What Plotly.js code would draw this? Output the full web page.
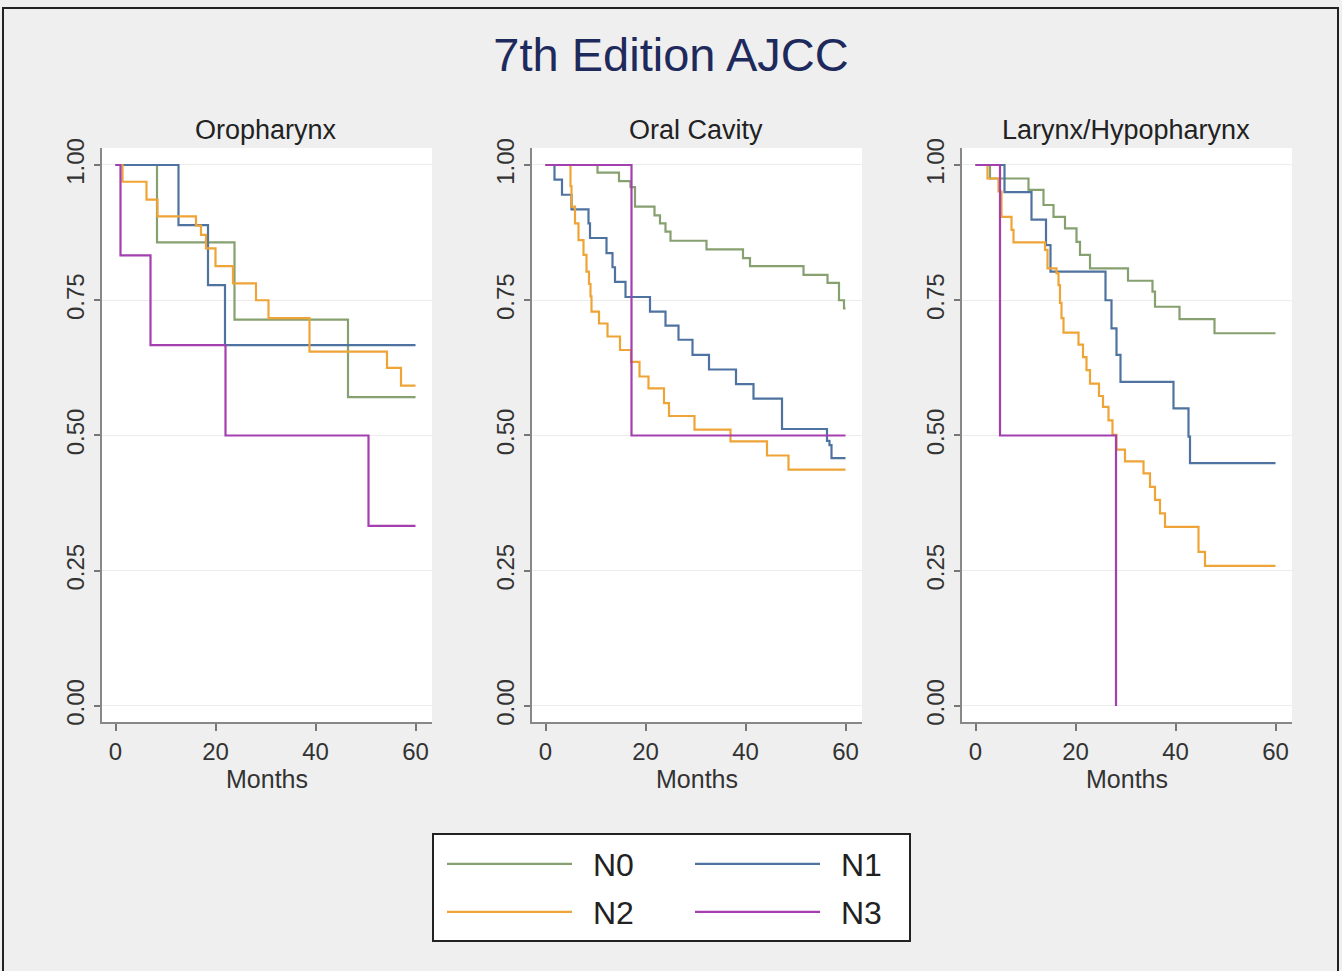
<!DOCTYPE html>
<html><head><meta charset="utf-8">
<script src="https://cdn.plot.ly/plotly-3.0.1.min.js"></script>
<style>html,body{margin:0;padding:0;background:#efefef;} #chart{width:1342px;height:971px;}</style>
</head><body><div id="chart"></div>
<script>
// ---- Data (months, survival proportion) ----
const panelTitles = ['Oropharynx', 'Oral Cavity', 'Larynx/Hypopharynx'];
const seriesNames = ['N0', 'N1', 'N2', 'N3'];
const seriesColors = ['#86a070', '#4f73a0', '#eea436', '#a43fb0'];
const xTickVals = [0, 20, 40, 60];
const yTickVals = [0, 0.25, 0.5, 0.75, 1];
const yTickText = ['0.00', '0.25', '0.50', '0.75', '1.00'];

// Oropharynx
const oroN0_t = [0, 8.3, 23.8, 46.5, 60];
const oroN0_s = [1, 0.857, 0.714, 0.571, 0.571];
const oroN1_t = [0, 12.6, 18.5, 21.9, 60];
const oroN1_s = [1, 0.889, 0.778, 0.667, 0.667];
const oroN2_t = [0, 1.4, 6.2, 8.4, 16.1, 17.1, 18.1, 20.0, 23.5, 28.1, 30.6, 38.8, 54.3, 57.1, 60];
const oroN2_s = [1, 0.969, 0.936, 0.905, 0.888, 0.871, 0.846, 0.813, 0.781, 0.750, 0.717, 0.655, 0.625, 0.592, 0.592];
const oroN3_t = [0, 1.0, 7.0, 22.0, 50.6, 60];
const oroN3_s = [1, 0.833, 0.667, 0.5, 0.333, 0.333];

// Oral Cavity
const ocN0_t = [0, 10.4, 14.7, 17.0, 17.9, 21.8, 22.9, 24.0, 25.0, 32.2, 39.5, 40.9, 51.6, 56.4, 58.7, 59.7, 60];
const ocN0_s = [1, 0.986, 0.970, 0.959, 0.923, 0.907, 0.892, 0.877, 0.860, 0.844, 0.828, 0.813, 0.797, 0.782, 0.750, 0.735, 0.735];
const ocN1_t = [0, 1.8, 3.3, 5.2, 8.6, 8.9, 12.2, 13.4, 13.9, 16.0, 20.9, 24.0, 26.6, 29.4, 32.7, 38.1, 41.6, 47.3, 56.3, 56.8, 57.2, 60];
const ocN1_s = [1, 0.973, 0.945, 0.918, 0.892, 0.865, 0.837, 0.811, 0.784, 0.756, 0.729, 0.703, 0.677, 0.649, 0.622, 0.595, 0.568, 0.512, 0.490, 0.482, 0.458, 0.458];
const ocN2_t = [0, 5.0, 5.2, 5.9, 6.6, 7.6, 8.2, 8.7, 9.0, 9.2, 10.7, 12.4, 14.9, 17.1, 18.8, 20.6, 23.7, 24.7, 29.8, 37.0, 44.3, 48.6, 60];
const ocN2_s = [1, 0.961, 0.923, 0.892, 0.861, 0.834, 0.803, 0.780, 0.757, 0.729, 0.707, 0.683, 0.658, 0.636, 0.609, 0.587, 0.560, 0.536, 0.511, 0.489, 0.463, 0.437, 0.437];
const ocN3_t = [0, 17.2, 60];
const ocN3_s = [1, 0.5, 0.5];

// Larynx/Hypopharynx
const lhN0_t = [0, 2.9, 10.6, 13.6, 15.6, 17.9, 20.2, 20.9, 22.9, 30.5, 35.4, 35.9, 40.8, 47.8, 60];
const lhN0_s = [1, 0.975, 0.954, 0.926, 0.904, 0.883, 0.858, 0.834, 0.809, 0.786, 0.766, 0.738, 0.715, 0.689, 0.689];
const lhN1_t = [0, 5.8, 11.2, 14.1, 15.0, 26.0, 27.2, 28.2, 29.0, 39.6, 42.6, 42.9, 60];
const lhN1_s = [1, 0.950, 0.899, 0.852, 0.803, 0.750, 0.698, 0.649, 0.599, 0.550, 0.498, 0.449, 0.449];
const lhN2_t = [0, 2.4, 4.6, 5.2, 7.2, 7.6, 13.9, 14.4, 16.2, 16.6, 16.9, 17.2, 17.6, 20.6, 21.5, 22.2, 22.9, 24.7, 25.5, 26.6, 27.4, 28.2, 29.9, 33.6, 34.9, 35.9, 36.9, 37.9, 44.6, 45.9, 60];
const lhN2_s = [1, 0.975, 0.951, 0.904, 0.880, 0.857, 0.843, 0.809, 0.800, 0.778, 0.745, 0.717, 0.690, 0.668, 0.645, 0.621, 0.596, 0.573, 0.553, 0.528, 0.501, 0.474, 0.452, 0.430, 0.405, 0.381, 0.356, 0.331, 0.285, 0.259, 0.259];
const lhN3_t = [0, 4.9, 28.1];
const lhN3_s = [1, 0.5, 0.0];

const panels = [
  [[oroN0_t, oroN0_s], [oroN1_t, oroN1_s], [oroN2_t, oroN2_s], [oroN3_t, oroN3_s]],
  [[ocN0_t, ocN0_s], [ocN1_t, ocN1_s], [ocN2_t, ocN2_s], [ocN3_t, ocN3_s]],
  [[lhN0_t, lhN0_s], [lhN1_t, lhN1_s], [lhN2_t, lhN2_s], [lhN3_t, lhN3_s]]
];

// ---- Layout geometry (px in a 1342x971 figure) ----
const W = 1342, H = 971;
const FONT = 'Liberation Sans, Arial, Helvetica, sans-serif';
const xDomPx = [[102, 432], [532, 862], [962, 1292]];
const yDomPx = [148, 722];
const px2x = p => p / W;
const px2y = p => 1 - p / H;

const traces = [];
panels.forEach((series, pi) => {
  series.forEach((ts, si) => {
    traces.push({
      type: 'scatter', mode: 'lines',
      x: ts[0], y: ts[1],
      name: '\u2002' + seriesNames[si],
      legendgroup: seriesNames[si],
      legend: si < 2 ? 'legend' : 'legend2',
      showlegend: pi === 0,
      line: {shape: 'hv', color: seriesColors[si], width: 2.2},
      xaxis: 'x' + (pi === 0 ? '' : pi + 1),
      yaxis: 'y' + (pi === 0 ? '' : pi + 1),
      hoverinfo: 'x+y+name'
    });
  });
});

const legendBase = {
  orientation: 'h', x: px2x(442), xanchor: 'left', yanchor: 'middle',
  bgcolor: 'rgba(0,0,0,0)', borderwidth: 0,
  font: {family: FONT, size: 32, color: '#222'},
  itemwidth: 125, entrywidth: 108, entrywidthmode: 'pixels', itemclick: false, itemdoubleclick: false
};

const layout = {
  width: W, height: H,
  margin: {l: 0, r: 0, t: 0, b: 0},
  paper_bgcolor: '#efefef',
  plot_bgcolor: '#ffffff',
  font: {family: FONT, color: '#333'},
  title: {
    text: '7th Edition AJCC',
    font: {family: FONT, size: 47, color: '#1f2a5c'},
    x: 0.5, xanchor: 'center', xref: 'paper',
    y: px2y(55), yanchor: 'middle', yref: 'paper'
  },
  showlegend: true,
  legend: Object.assign({}, legendBase, {y: px2y(864)}),
  legend2: Object.assign({}, legendBase, {y: px2y(912)}),
  annotations: [],
  shapes: [
    {type: 'rect', xref: 'paper', yref: 'paper', x0: px2x(433), x1: px2x(910), y0: px2y(941), y1: px2y(834),
     fillcolor: '#ffffff', line: {color: '#222', width: 2}, layer: 'below'},
    {type: 'rect', xref: 'paper', yref: 'paper', x0: px2x(3), x1: px2x(1338), y0: px2y(1000), y1: px2y(8),
     fillcolor: 'rgba(0,0,0,0)', line: {color: '#222', width: 2}, layer: 'above'}
  ]
};

xDomPx.forEach((d, i) => {
  const sfx = i === 0 ? '' : String(i + 1);
  layout['xaxis' + sfx] = {
    domain: [px2x(d[0]), px2x(d[1])],
    anchor: 'y' + sfx,
    range: [-2.7, 63.3],
    tickvals: xTickVals,
    ticks: 'outside', ticklen: 7, tickwidth: 1.5, tickcolor: '#777',
    showline: true, linecolor: '#888', linewidth: 2,
    showgrid: false, zeroline: false,
    tickfont: {family: FONT, size: 24, color: '#333'},
    title: {text: 'Months', font: {family: FONT, size: 25, color: '#333'}, standoff: 2},
    fixedrange: true
  };
  layout['yaxis' + sfx] = {
    domain: [px2y(yDomPx[1]), px2y(yDomPx[0])],
    anchor: 'x' + sfx,
    range: [-0.0296, 1.0314],
    tickvals: yTickVals, ticktext: yTickText,
    tickangle: -90,
    ticks: 'outside', ticklen: 6, tickwidth: 1.5, tickcolor: '#777',
    showline: true, linecolor: '#888', linewidth: 2,
    showgrid: true, gridcolor: '#ececec', gridwidth: 1,
    zeroline: false,
    tickfont: {family: FONT, size: 24, color: '#333'},
    fixedrange: true
  };
  layout.annotations.push({
    text: panelTitles[i], xref: 'paper', yref: 'paper',
    x: px2x((d[0] + d[1]) / 2 - 1), y: px2y(130), xanchor: 'center', yanchor: 'middle',
    showarrow: false, font: {family: FONT, size: 27, color: '#222'}
  });
});

Plotly.newPlot('chart', traces, layout, {displayModeBar: false});
</script></body></html>
